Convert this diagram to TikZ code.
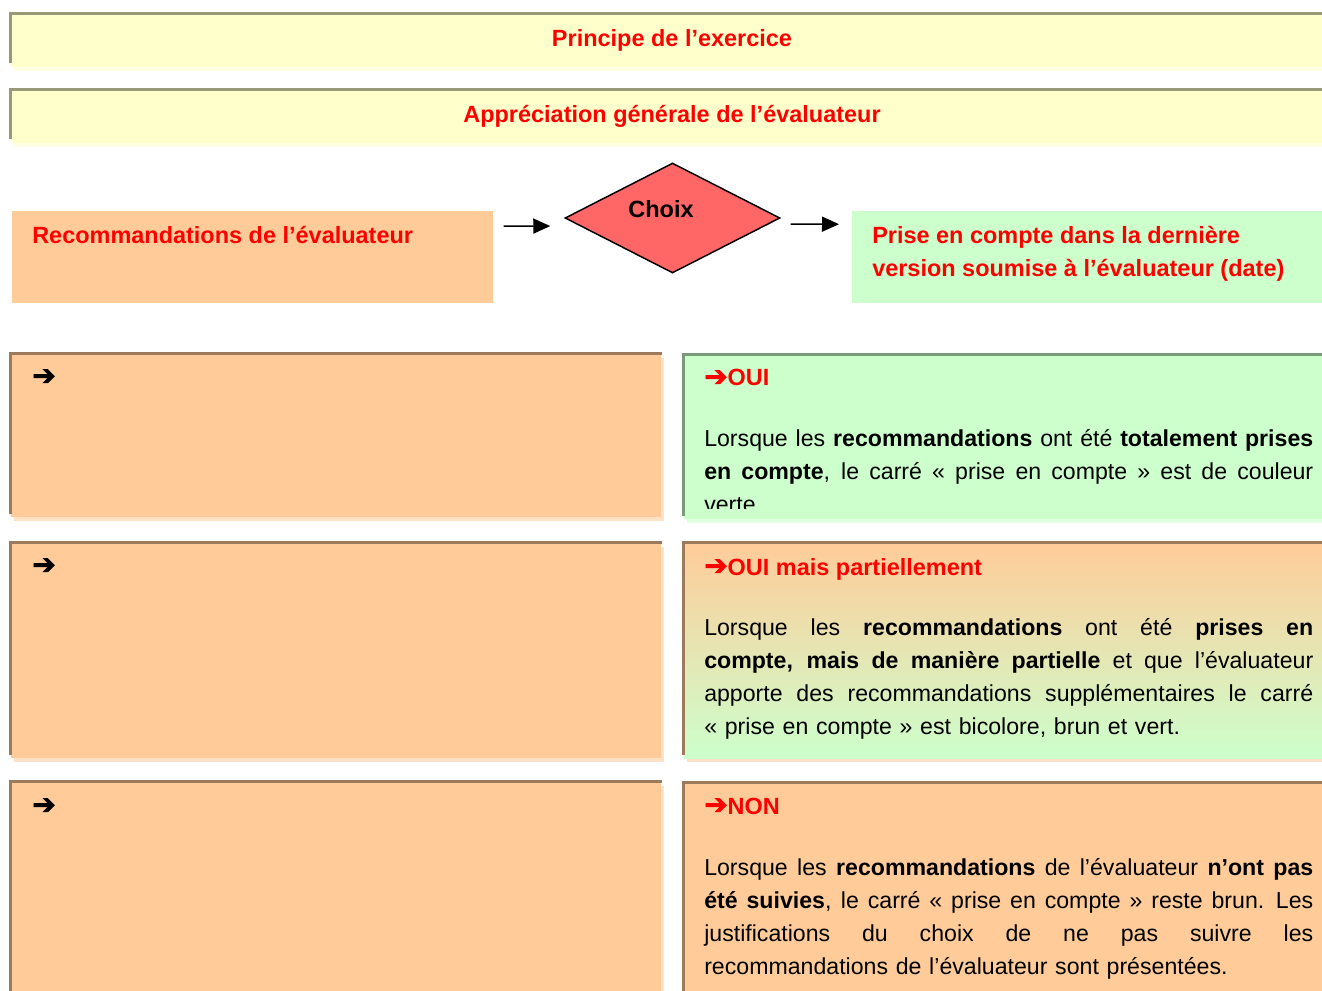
\documentclass[tikz,border=0pt]{standalone}
\usepackage{fontspec}
\setmainfont{Liberation Sans}
\newfontface\arrowfont[FakeBold=2.5]{DejaVu Sans}
\usetikzlibrary{shapes.geometric,shadows,arrows.meta}

\definecolor{barfill}{HTML}{FFFFCC}
\definecolor{barshade}{HTML}{FFFFE4}
\definecolor{barrim}{HTML}{999977}
\definecolor{ofill}{HTML}{FFCC99}
\definecolor{oshade}{HTML}{FFE2C6}
\definecolor{orim}{HTML}{9C7B5C}
\definecolor{gfill}{HTML}{CCFFCC}
\definecolor{gshade}{HTML}{E2FFE2}
\definecolor{grim}{HTML}{7A9A7A}
\definecolor{choixfill}{HTML}{FF6666}

\newcommand{\normsize}{\fontsize{17.6}{24.75}\selectfont}
\newcommand{\bodysize}{\fontsize{17.35}{24.75}\selectfont}
\newcommand{\ra}{{\arrowfont\fontsize{21}{21}\selectfont ➔}}
\newcommand{\jline}[1]{\hbox to 456.75pt{\spaceskip=0.278em plus 1fil\relax\strut#1}}
\newcommand{\lline}[1]{\hbox{\strut#1}}

\begin{document}
\begin{tikzpicture}[x=0.75pt,y=-0.75pt,
  every node/.style={inner sep=0pt,font=\normsize},
  backshadow/.style={drop shadow={shadow xshift=2.25pt,shadow yshift=-3pt,fill=#1,opacity=1}},
  barbox/.style={anchor=north west,fill=barfill,minimum width=990pt,minimum height=40pt,backshadow=barshade},
  leftbox/.style={anchor=north west,fill=ofill,minimum width=487.9pt,minimum height=#1,backshadow=oshade},
  rightbox/.style={anchor=north west,minimum width=480pt,minimum height=#1},
  title/.style={font=\normsize\bfseries,text=red},
  body/.style={anchor=north west,text width=456.75pt,font=\bodysize},
  flow/.style={-{Triangle[length=12.75pt,width=11.25pt]},line width=1.1pt},
  rim/.style={line width=2.25pt,draw=#1}]
  \useasboundingbox (0,0) rectangle (1322,991);
  \clip (0,0) rectangle (1322,991);

  \node[barbox] (bar1) at (10.5,13.5) {};
  \node[barbox] (bar2) at (10.5,89.5) {};
  \node[title,anchor=base] (princ) at (672,47) {Principe de l’exercice};
  \node[title,anchor=base] (appr) at (672,123) {Appréciation générale de l’évaluateur};

  \node[anchor=north west,fill=ofill,minimum width=360.75pt,minimum height=69pt] (rec) at (12,211) {};
  \node[title,anchor=base west] (rectxt) at (32,244) {Recommandations de l’évaluateur};
  \node[diamond,draw,line width=1.1pt,fill=choixfill,minimum width=161.25pt,minimum height=82.5pt] (dia) at (672.5,218) {};
  \node[anchor=base,font=\normsize\bfseries] (choix) at (661,218) {Choix};
  \node[anchor=north west,fill=gfill,minimum width=360pt,minimum height=69pt] (prise) at (852,211) {};
  \node[title,anchor=north west,align=left] (prisetxt) at (872,219.9)
    {\strut Prise en compte dans la dernière\\version soumise à l’évaluateur (date)};

  \draw[flow,shorten <=7.5pt,shorten >=10.5pt] ([yshift=23.25pt]rec.east) -- ([yshift=-6pt]dia.west);
  \draw[flow,shorten <=7.5pt,shorten >=9.75pt] ([yshift=-4.5pt]dia.east) -- ([yshift=24.75pt]prise.west);

  \node[leftbox=122.6pt] (l1) at (10.5,353.5) {};
  \node[rightbox=123.4pt,fill=gfill,backshadow=gshade] (r1) at (683.5,354.5) {};
  \node[leftbox=161.6pt] (l2) at (10.5,542.5) {};
  \node[rightbox=161.6pt,top color=ofill,bottom color=gfill,backshadow=oshade] (r2) at (683.5,542.5) {};
  \node[leftbox=170pt] (l3) at (10.5,781.5) {};
  \node[rightbox=170pt,fill=ofill,backshadow=oshade] (r3) at (683.5,782) {};

  \foreach \n/\c in {bar1/barrim,bar2/barrim,l1/orim,r1/grim,l2/orim,r2/orim,l3/orim,r3/orim}
    \draw[rim=\c] ([yshift=3pt]\n.south west) -- (\n.north west) -- (\n.north east);

  \foreach \y/\n in {385/a1,574/a2,814/a3}
    \node[anchor=base west] (\n) at (32,\y) {\ra};

  \node[title,anchor=base west] (oui) at (704,386) {\ra OUI};
  \node[title,anchor=base west] (part) at (704,575) {\ra OUI mais partiellement};
  \node[title,anchor=base west] (non) at (704,814) {\ra NON};

  \begin{scope}
    \clip (683.5,354.5) rectangle (1322,508);
    \node[body] (ouitxt) at (704,422.9) {%
      \jline{Lorsque les \textbf{recommandations} ont été \textbf{totalement prises}}
      \jline{\textbf{en compte}, le carré «~prise en compte~» est de couleur}
      \lline{verte.}};
  \end{scope}
  \node[body] (parttxt) at (704,611.9) {%
    \jline{Lorsque les \textbf{recommandations} ont été \textbf{prises en}}
    \jline{\textbf{compte, mais de manière partielle} et que l’évaluateur}
    \jline{apporte des recommandations supplémentaires le carré}
    \lline{«~prise en compte~» est bicolore, brun et vert.}};
  \node[body] (nontxt) at (704,851.9) {%
    \jline{Lorsque les \textbf{recommandations} de l’évaluateur \textbf{n’ont pas}}
    \jline{\textbf{été suivies}, le carré «~prise en compte~» reste brun. Les}
    \jline{justifications du choix de ne pas suivre les}
    \lline{recommandations de l’évaluateur sont présentées.}};
\end{tikzpicture}
\end{document}
